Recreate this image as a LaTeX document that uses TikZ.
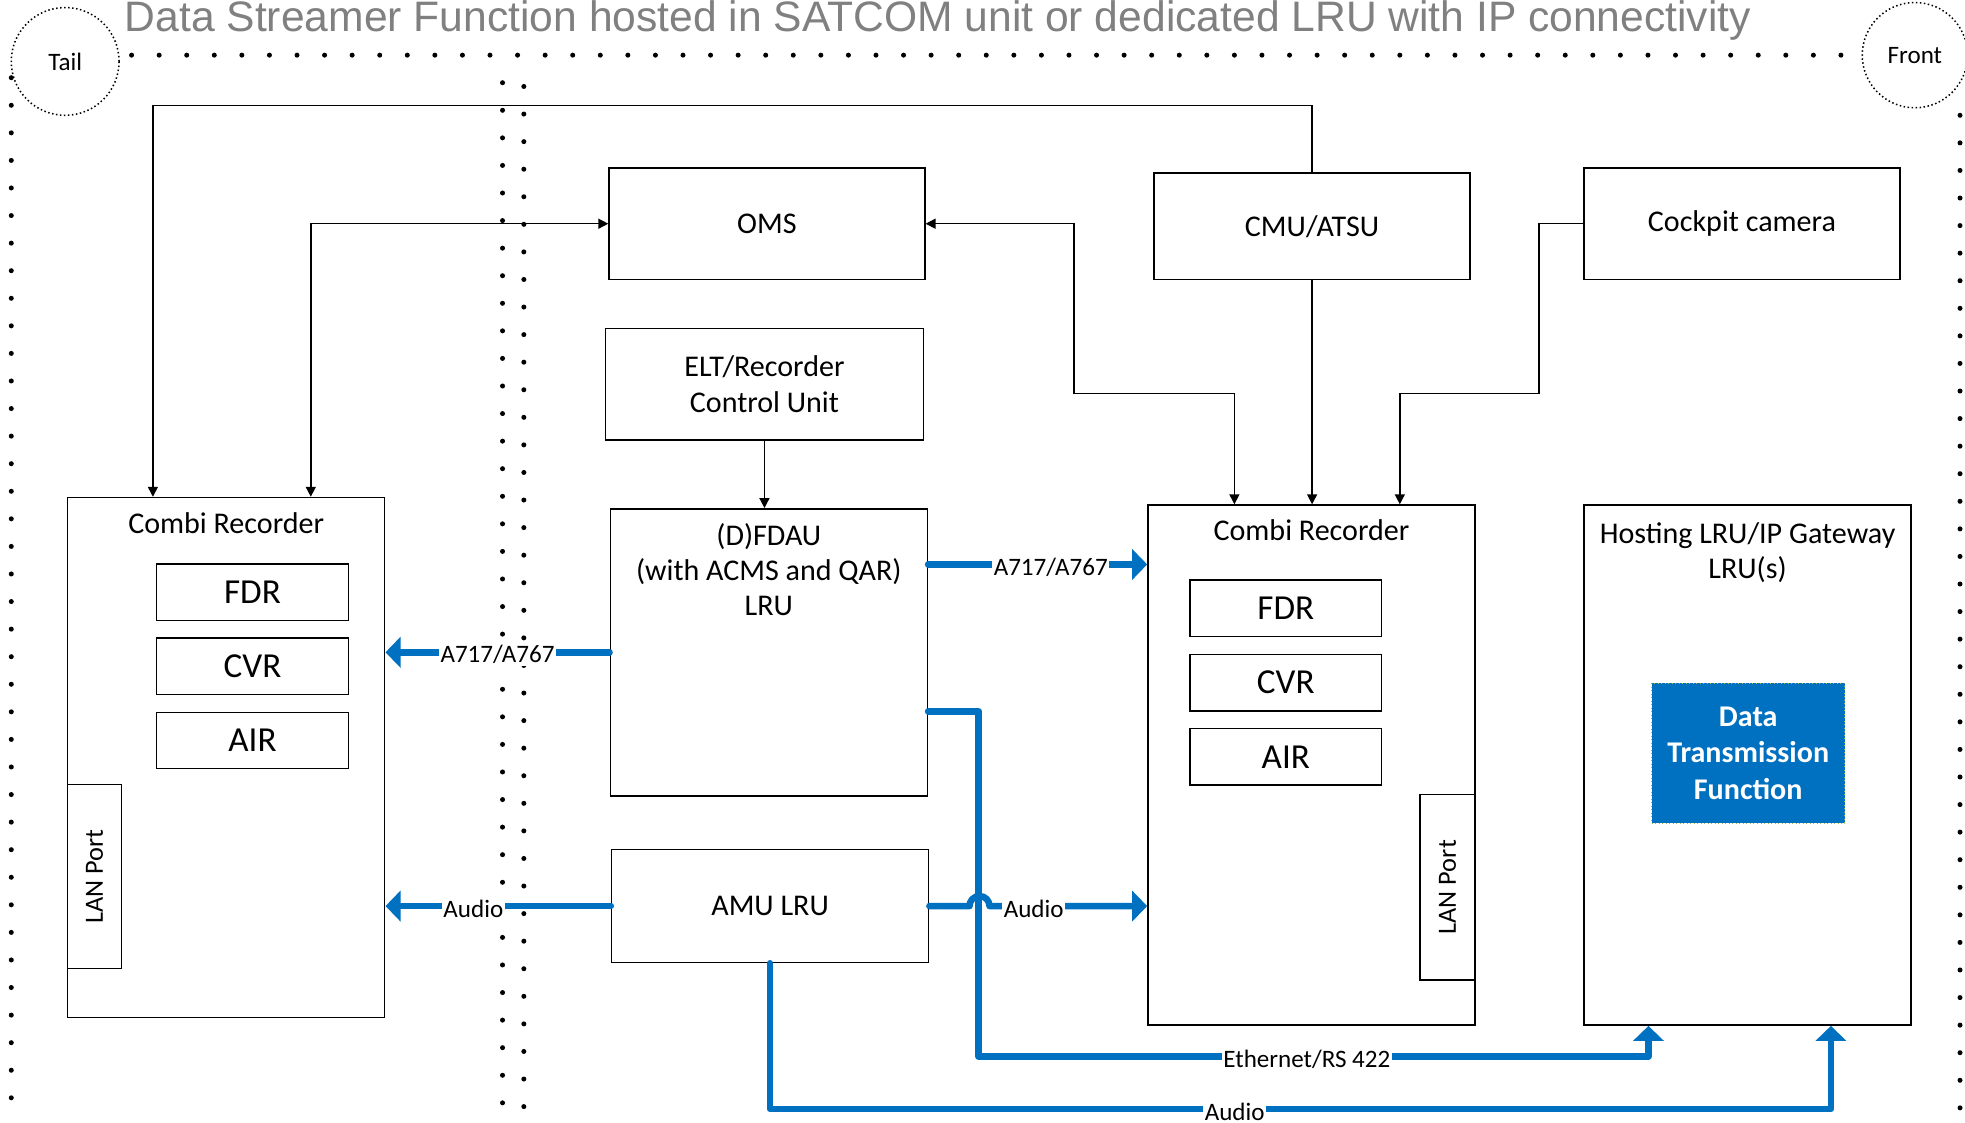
\documentclass[tikz,border=0pt]{standalone}
\usepackage{fontspec}
\setmainfont{Carlito}
\newfontfamily\titlefont{Liberation Sans}
\usetikzlibrary{arrows.meta,positioning,calc}
\definecolor{busblue}{RGB}{0,112,192}
\definecolor{titlegray}{RGB}{128,128,128}
\definecolor{dtfgreen}{RGB}{155,187,89}

\begin{document}
\begin{tikzpicture}[x=0.5pt,y=-0.5pt,node distance=6.5pt,>={Triangle[length=4pt,width=4pt]},
  box/.style={draw,line width=0.6pt,minimum width=126pt,minimum height=44.5pt,inner sep=0pt,align=center,font=\fontsize{12}{14.5}\selectfont},
  head/.style={inner sep=0pt,align=center,font=\fontsize{12}{14}\selectfont},
  unit/.style={draw,line width=0.6pt,minimum width=76.5pt,minimum height=22.5pt,inner sep=0pt,font=\fontsize{14}{16}\selectfont},
  port/.style={draw,line width=0.6pt,rotate=90,minimum width=73.5pt,minimum height=21.5pt,inner sep=0pt,font=\fontsize{10.5}{12}\selectfont},
  zone/.style={draw,densely dotted,line width=0.6pt,circle,minimum size=43pt,inner sep=0pt,font=\fontsize{10}{12}\selectfont},
  dtfbox/.style={draw=dtfgreen,densely dotted,fill=busblue,text=white,minimum width=77pt,minimum height=56pt,inner sep=0pt,align=center,font=\bfseries\fontsize{12}{14.5}\selectfont},
  dots/.style={line width=2pt,dash pattern=on 0pt off 11pt,line cap=round},
  sig/.style={line width=0.6pt},
  bus/.style={-{Triangle[length=6pt,width=12pt]},line width=2.6pt,busblue,line cap=round,line join=round},
  tag/.style={fill=white,text=black,inner sep=0.6pt,yshift=-1pt,font=\fontsize{10}{12}\selectfont}]
\useasboundingbox (0,0) rectangle (1568,896);
\draw[dots] (105,44) -- (1482,44);
\draw[dots] (9,62) -- (9,896);
\draw[dots] (401,66) -- (401,896);
\draw[dots] (418,69) -- (418,896);
\draw[dots] (1564,92) -- (1564,896);
\node[font=\titlefont\fontsize{17}{20}\selectfont,text=titlegray,anchor=base] (title) at (748.5,25) {Data Streamer Function hosted in SATCOM unit or dedicated LRU with IP connectivity};
\node[zone] (tail) at (52,49) {Tail};
\node[zone,minimum size=42pt] (front) at (1528,44) {Front};
\node[box] (oms) at (612,178.5) {OMS};
\node[box,minimum height=42.5pt] (cmu) at (1047,180.5) {CMU/ATSU};
\node[box] (cam) at (1390,178.5) {Cockpit camera};
\node[box,minimum width=127pt] (elt) at (610,306.5) {ELT/Recorder\\Control Unit};
\node[box,minimum width=126.5pt,minimum height=114.5pt] (fdau) at (613.5,520.5) {};
\node[head,below=6pt of fdau.north] (fdaut) {(D)FDAU\\(with ACMS and QAR)\\LRU};
\node[box,minimum width=126.5pt,minimum height=45pt] (amu) at (614.5,723) {AMU LRU};
\node[box,minimum width=126.5pt,minimum height=207.5pt] (crL) at (180.5,604.5) {};
\node[head,below=6pt of crL.north] (crLt) {Combi Recorder};
\node[unit] (fdrL) at (201.5,472.5) {FDR};
\node[unit,below=of fdrL] (cvrL) {CVR};
\node[unit,below=of cvrL] (airL) {AIR};
\node[port] (lanL) at (75.5,699.5) {LAN Port};
\node[box,minimum width=130.5pt,minimum height=207.5pt] (crR) at (1046.5,610.5) {};
\node[head,below=6pt of crR.north] (crRt) {Combi Recorder};
\node[unit] (fdrR) at (1026,485.5) {FDR};
\node[unit,below=of fdrR] (cvrR) {CVR};
\node[unit,below=of cvrR] (airR) {AIR};
\node[port,minimum width=74pt,minimum height=22pt] (lanR) at (1155,708) {LAN Port};
\node[box,minimum width=130.5pt,minimum height=207.5pt] (host) at (1394.5,610.5) {};
\node[head,below=7pt of host.north] (hostt) {Hosting LRU/IP Gateway\\LRU(s)};
\node[dtfbox] (dtf) at (1395,601) {Data\\Transmission\\Function};
\coordinate (b1) at (122,84);
\coordinate (b2) at (248,179);
\coordinate (b3) at (857,314);
\coordinate (b4) at (985,314);
\coordinate (b5) at (1228,314);
\coordinate (b6) at (1117,314);
\draw[sig,->] (cmu.north) |- (b1) -- (b1 |- crL.north);
\draw[sig,<->] (oms.west) -| (b2 |- crL.north);
\draw[sig,<->] (oms.east) -| (b3) -- (b4) -- (b4 |- crR.north);
\draw[sig,->] (cmu.south) -- (cmu.south |- crR.north);
\draw[sig,->] (cam.west) -| (b5) -- (b6) -- (b6 |- crR.north);
\draw[sig,->] (elt.south) -- (elt.south |- fdau.north);
\coordinate (e1) at (781,843);
\coordinate (e2) at (1461,885);
\draw[bus] (fdau.west) -- (fdau.west -| crL.east) node[tag,pos=0.5] {A717/A767};
\draw[bus] ($(fdau.north east)+(0,45)$) coordinate (pb) -- (pb -| crR.west) node[tag,pos=0.56] {A717/A767};
\draw[bus] (amu.west) -- (amu.west -| crL.east) node[tag,pos=0.61] {Audio};
\draw[bus] ($(fdau.south east)+(0,-68)$) -| (e1) -| node[tag,pos=0.245] {Ethernet/RS 422} ($(host.south west)+(52,0)$);
\draw[bus] (amu.east) -- ++(32,0) arc (180:360:8) -- (amu.east -| crR.west) node[tag,pos=0.28] {Audio};
\draw[bus] (amu.south) |- node[tag,pos=0.719] {Audio} (e2) -- (e2 |- host.south);
\end{tikzpicture}
\end{document}
